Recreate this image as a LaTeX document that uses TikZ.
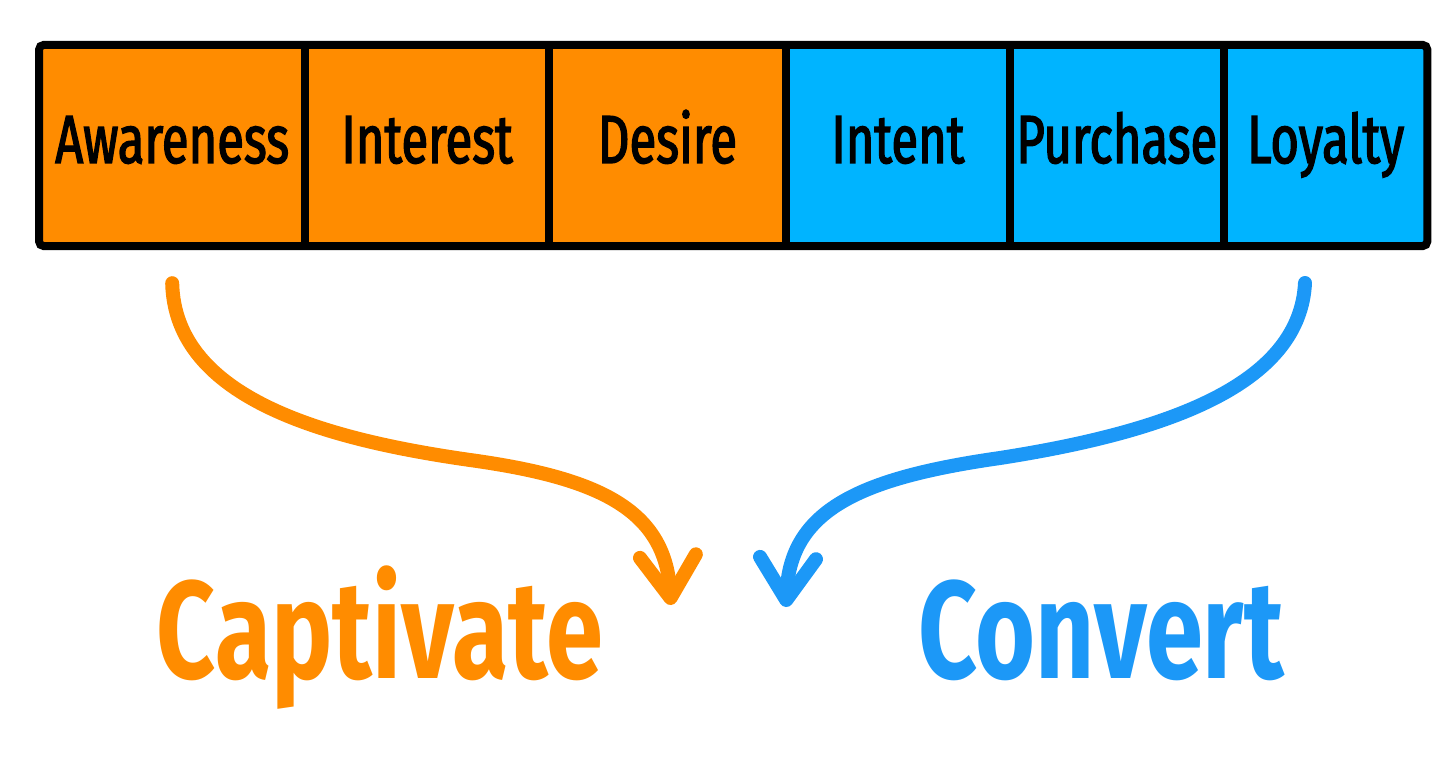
\documentclass[tikz,border=0pt]{standalone}
\usepackage{fontspec}
\setmainfont{Fira Sans}[FakeStretch=0.72, FakeBold=2]
\newfontfamily\goalfont{Fira Sans}[FakeStretch=0.74]
\usepackage{tikz}
\usetikzlibrary{positioning}
\usetikzlibrary{arrows.meta}

\definecolor{stageorange}{HTML}{FF8C00}
\definecolor{stageblue}{HTML}{00B4FF}
\definecolor{arrowblue}{HTML}{1C98F7}

\tikzset{
  stage/.style={fill=#1, inner sep=0pt, minimum height=201pt,
    text height=47pt, text depth=12pt, anchor=west,
    font=\fontsize{68}{70}\selectfont},
  bendarrow/.style={line width=14pt, line cap=round,
    -{Straight Barb[length=42pt,width=56pt,line cap=round,line join=round]}},
  goal/.style={anchor=base, font=\goalfont\bfseries\fontsize{139}{140}\selectfont}
}

\begin{document}
\begin{tikzpicture}[x=1pt,y=-1pt]
  \useasboundingbox (0,0) rectangle (1456,762);

  \node[stage=stageorange, minimum width=266pt] (aware) at (39,145.5) {Awareness};
  \node[stage=stageorange, minimum width=243pt, right=0pt of aware] (inter) {Interest};
  \node[stage=stageorange, minimum width=237pt, right=0pt of inter] (desire) {Desire};
  \node[stage=stageblue, minimum width=223pt, right=0pt of desire] (intent) {Intent};
  \node[stage=stageblue, minimum width=214pt, right=0pt of intent] (purch) {Purchase};
  \node[stage=stageblue, minimum width=203pt, right=0pt of purch] (loyal) {Loyalty};

  \foreach \s in {aware,inter,desire,intent,purch}
    \draw [line width=8pt] (\s.north east) -- (\s.south east);
  \draw [line width=8pt, rounded corners=5pt] (aware.north west) rectangle (loyal.south east);

  \node[goal, text=stageorange] (capt) at (380,678) {Captivate};
  \node[goal, text=arrowblue] (conv) at (1101,678) {Convert};

  \coordinate[below=37pt of aware] (capstart);
  \coordinate (captip) at (671,605);
  \coordinate (convstart) at (1305,283);
  \coordinate (convtip) at (786,607);

  \draw [bendarrow, stageorange] (capstart) .. controls (175,400) and (330,440) .. (470,460)
    .. controls (600,478) and (665,510) .. (captip);
  \draw [bendarrow, arrowblue] (convstart) .. controls (1300,380) and (1180,430) .. (1000,458)
    .. controls (860,478) and (790,510) .. (convtip);
\end{tikzpicture}
\end{document}
